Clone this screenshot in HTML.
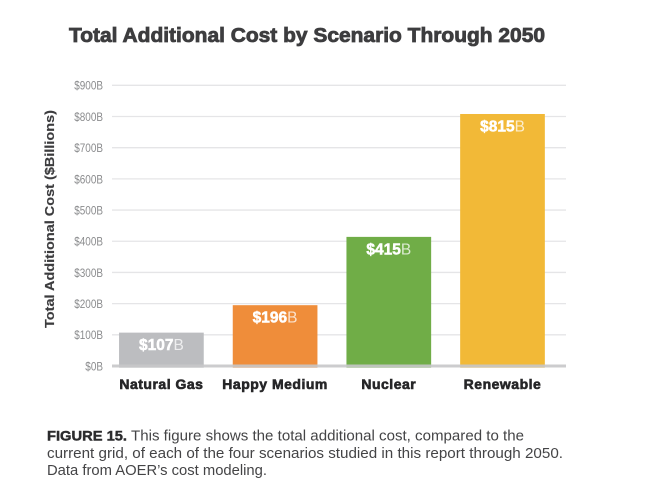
<!DOCTYPE html>
<html lang="en">
<head>
<meta charset="utf-8">
<title>Total Additional Cost by Scenario Through 2050</title>
<style>
html,body{margin:0;padding:0;background:#fff;width:655px;height:500px;overflow:hidden}
svg{display:block;font-family:"Liberation Sans",sans-serif}
</style>
</head>
<body>
<svg id="chart" width="655" height="500" viewBox="0 0 655 500">
  <text x="69" y="42" font-size="20" font-weight="700" fill="#3d3d3f" stroke="#3d3d3f" stroke-width=".8" textLength="476" lengthAdjust="spacingAndGlyphs">Total Additional Cost by Scenario Through 2050</text>
  <text transform="translate(54,219) rotate(-90)" text-anchor="middle" font-size="12.5" font-weight="700" fill="#3c3c3e" stroke="#3c3c3e" stroke-width=".15" textLength="218" lengthAdjust="spacingAndGlyphs">Total Additional Cost ($Billions)</text>
  <g id="grid"></g>
  <g id="ticks"></g>
  <g id="bars"></g>
  <line id="baseline" stroke="#c6c7c9" stroke-opacity=".9" stroke-width="3"></line>
  <g id="values"></g>
  <g id="cats"></g>
  <g>
    <text x="47" y="440.5" font-size="14" font-weight="700" fill="#2b2b2d" stroke="#2b2b2d" stroke-width=".45" textLength="80" lengthAdjust="spacingAndGlyphs">FIGURE 15.</text>
    <text x="131" y="440.5" font-size="14.5" fill="#444446" textLength="393" lengthAdjust="spacingAndGlyphs">This figure shows the total additional cost, compared to the</text>
    <text x="47" y="458" font-size="14.5" fill="#444446" textLength="516" lengthAdjust="spacingAndGlyphs">current grid, of each of the four scenarios studied in this report through 2050.</text>
    <text x="47" y="475" font-size="14.5" fill="#444446" textLength="220" lengthAdjust="spacingAndGlyphs">Data from AOER’s cost modeling.</text>
  </g>
</svg>
<script>
const categories = ["Natural Gas", "Happy Medium", "Nuclear", "Renewable"];
const costValues = [107, 195, 414, 808];
const printedValues = ["$107", "$196", "$415", "$815"];
const barColors = ["#bcbdc0", "#ef8d3a", "#70ad47", "#f2b937"];
const tickValues = [0, 100, 200, 300, 400, 500, 600, 700, 800, 900];
const tickLabels = ["$0B", "$100B", "$200B", "$300B", "$400B", "$500B", "$600B", "$700B", "$800B", "$900B"];

const NS = "http://www.w3.org/2000/svg";
const plotLeft = 112, plotRight = 566, plotBottom = 366, plotTop = 85.3, domainMax = 900;
const firstCenter = 161.4, step = 113.7, barWidth = 84.7;

function yScale(v) { return plotBottom - (v / domainMax) * (plotBottom - plotTop); }
function xCenter(i) { return firstCenter + i * step; }
function make(tag, parent) {
  const el = document.createElementNS(NS, tag);
  document.getElementById(parent).appendChild(el);
  return el;
}

tickValues.forEach(function (t, i) {
  if (t > 0) {
    const line = make("line", "grid");
    
    
    line.setAttribute("x1", plotLeft);
    line.setAttribute("x2", plotRight);
    line.setAttribute("y1", yScale(t));
    line.setAttribute("y2", yScale(t));
    line.setAttribute("stroke", "#e5e5e7");
    line.setAttribute("stroke-width", "1.3");
  }
  const label = make("text", "ticks");
  
  
  label.setAttribute("transform", "translate(103," + (yScale(t) + 4.4) + ") scale(.83,1)");
  label.setAttribute("text-anchor", "end");
  label.setAttribute("font-size", "12");
  label.setAttribute("fill", "#8b8c8e");
  label.textContent = tickLabels[i];
});

categories.forEach(function (name, i) {
  const cx = xCenter(i);
  const top = yScale(costValues[i]);
  const bar = make("rect", "bars");
  
  
  bar.setAttribute("x", cx - barWidth / 2);
  bar.setAttribute("y", top);
  bar.setAttribute("width", barWidth);
  bar.setAttribute("height", plotBottom + 1.7 - top);
  bar.setAttribute("fill", barColors[i]);

  const val = make("text", "values");
  
  
  val.setAttribute("x", cx);
  val.setAttribute("y", top + 17.5);
  val.setAttribute("text-anchor", "middle");
  val.setAttribute("font-size", "15.5");
  val.setAttribute("fill", "#fff");
  const strong = document.createElementNS(NS, "tspan");
  strong.setAttribute("font-weight", "700");
  strong.setAttribute("stroke", "#fff");
  strong.setAttribute("stroke-width", ".5");
  strong.textContent = printedValues[i];
  const unit = document.createElementNS(NS, "tspan");
  unit.setAttribute("fill-opacity", ".75");
  unit.textContent = "B";
  val.appendChild(strong);
  val.appendChild(unit);

  const cat = make("text", "cats");
  
  
  cat.setAttribute("x", cx);
  cat.setAttribute("y", 389);
  cat.setAttribute("text-anchor", "middle");
  cat.setAttribute("font-size", "14");
  cat.setAttribute("font-weight", "700");
  cat.setAttribute("letter-spacing", ".5");
  cat.setAttribute("fill", "#262628");
  cat.setAttribute("stroke", "#262628");
  cat.setAttribute("stroke-width", ".6");
  cat.textContent = name;
});

const base = document.getElementById("baseline");
base.setAttribute("x1", plotLeft);
base.setAttribute("x2", plotRight);
base.setAttribute("y1", plotBottom);
base.setAttribute("y2", plotBottom);
</script>
</body>
</html>
